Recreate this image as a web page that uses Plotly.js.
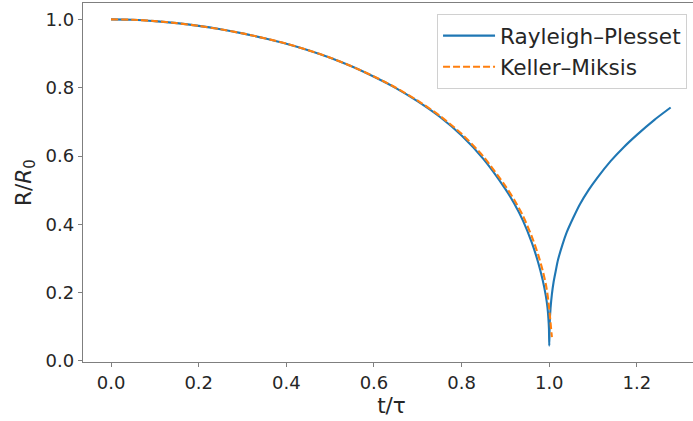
<!DOCTYPE html>
<html>
<head>
<meta charset="utf-8">
<script src="https://cdn.plot.ly/plotly-3.0.1.min.js"></script>
<style>
html,body{margin:0;padding:0;overflow:hidden;background:#fff;width:693px;height:421px;}
#chart{width:705px;height:421px;}
</style>
</head>
<body>
<div id="chart"></div>
<script>
// Rayleigh–Plesset: collapse and rebound
const rpT = [0, 0.05, 0.1, 0.15, 0.2, 0.25, 0.3, 0.35, 0.4, 0.45, 0.5, 0.55, 0.6, 0.65, 0.7, 0.75, 0.8, 0.85, 0.9, 0.92, 0.94, 0.96, 0.975, 0.985, 0.992, 0.996, 0.998, 0.9993, 1.0,
             1.001, 1.003, 1.006, 1.01, 1.015, 1.02, 1.03, 1.04, 1.055, 1.07, 1.09, 1.11, 1.14, 1.17, 1.2, 1.24, 1.277];
const rpR = [1.0, 0.999, 0.995, 0.989, 0.981, 0.971, 0.959, 0.945, 0.929, 0.91, 0.888, 0.862, 0.832, 0.799, 0.76, 0.715, 0.66, 0.591, 0.503, 0.461, 0.411, 0.347, 0.287, 0.237, 0.192, 0.156, 0.125, 0.095, 0.045,
             0.11, 0.155, 0.195, 0.232, 0.265, 0.296, 0.34, 0.377, 0.42, 0.459, 0.501, 0.537, 0.585, 0.626, 0.662, 0.706, 0.742];
// Keller–Miksis: collapse only
const kmT = [0, 0.05, 0.1, 0.15, 0.2, 0.25, 0.3, 0.35, 0.4, 0.45, 0.5, 0.55, 0.6, 0.65, 0.7, 0.75, 0.8, 0.85, 0.9, 0.92, 0.94, 0.96, 0.975, 0.985, 0.992, 0.996, 0.999, 1.002, 1.004, 1.006];
const kmR = [1.0, 0.999, 0.995, 0.989, 0.981, 0.971, 0.959, 0.945, 0.929, 0.91, 0.888, 0.862, 0.833, 0.8, 0.762, 0.718, 0.665, 0.598, 0.512, 0.472, 0.425, 0.365, 0.31, 0.265, 0.226, 0.195, 0.163, 0.125, 0.097, 0.07];
const seriesNames = ["Rayleigh–Plesset", "Keller–Miksis"];
const xTicks = [0.0, 0.2, 0.4, 0.6, 0.8, 1.0, 1.2];
const yTicks = [0.0, 0.2, 0.4, 0.6, 0.8, 1.0];

const font = "DejaVu Sans, sans-serif";
const traces = [
  {x: rpT, y: rpR, name: seriesNames[0], mode: "lines", line: {color: "#1f77b4", width: 2.1, shape: "spline", smoothing: 0.7}},
  {x: kmT, y: kmR, name: seriesNames[1], mode: "lines", line: {color: "#ff7f0e", width: 2.1, dash: "7px,3px", shape: "spline", smoothing: 0.7}}
];
const axisCommon = {
  showgrid: false, zeroline: false, showline: true, mirror: true,
  linecolor: "#7f7f7f", linewidth: 1.2,
  ticks: "outside", ticklen: 4, tickwidth: 1, tickcolor: "#7f7f7f",
  tickfont: {family: font, size: 18, color: "#262626"}
};
const layout = {
  width: 705, height: 421,
  margin: {l: 83, r: 5, t: 3, b: 59},
  paper_bgcolor: "#fff", plot_bgcolor: "#fff",
  font: {family: font, color: "#262626"},
  showlegend: true,
  legend: {
    x: 0.979, y: 0.969, xanchor: "right", yanchor: "top",
    bgcolor: "rgba(255,255,255,0.8)", bordercolor: "#d0d0d0", borderwidth: 1,
    font: {family: font, size: 21.6, color: "#262626"},
    itemwidth: 52, tracegroupgap: 0
  },
  xaxis: Object.assign({}, axisCommon, {
    range: [-0.064, 1.344], tickvals: xTicks, ticktext: xTicks.map(v => v.toFixed(1)),
    title: {text: "t/τ", font: {family: font, size: 21.6, color: "#262626"}, standoff: 6}
  }),
  yaxis: Object.assign({}, axisCommon, {
    range: [-0.003, 1.048], tickvals: yTicks, ticktext: yTicks.map(v => v.toFixed(1)),
    title: {text: "R/<i>R</i><sub>0</sub>", font: {family: font, size: 21.6, color: "#262626"}, standoff: 8}
  })
};
Plotly.newPlot("chart", traces, layout, {displayModeBar: false, staticPlot: true});
</script>
</body>
</html>
